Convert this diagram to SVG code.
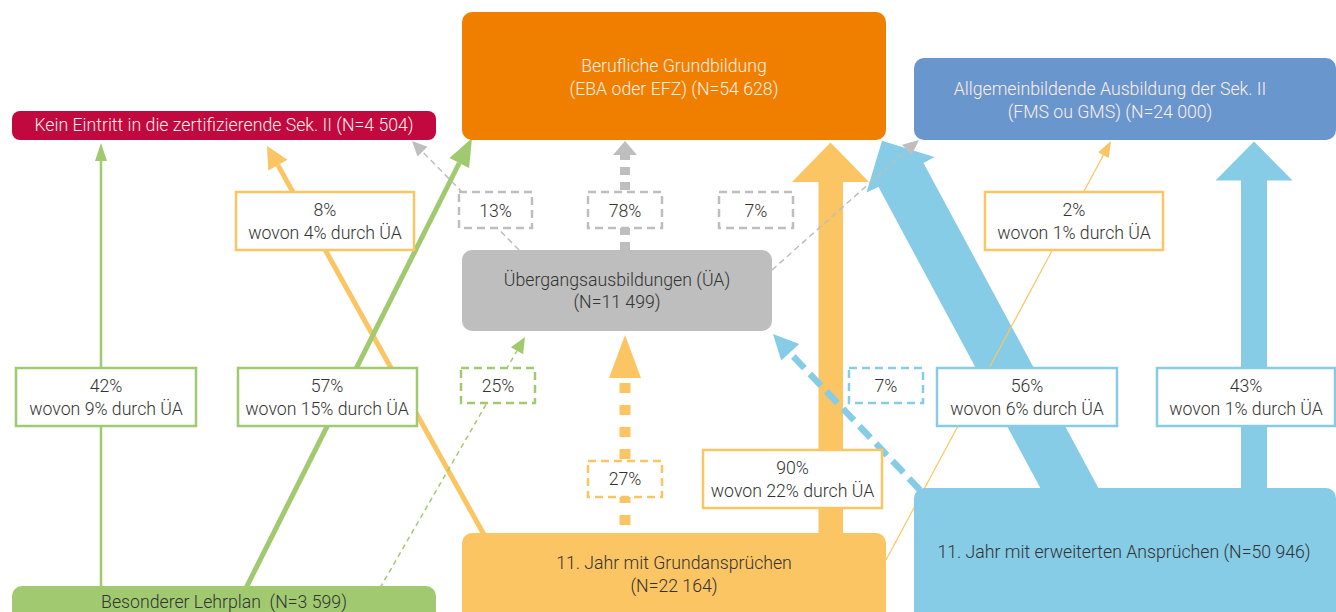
<svg xmlns="http://www.w3.org/2000/svg" width="1336" height="612" viewBox="0 0 1336 612">
<style>
text{font-family:Roboto,"Liberation Sans",sans-serif;font-weight:300;font-size:17.7px;text-anchor:middle;fill:#333}
.lt{fill:#fdeee6}
.lbl rect{fill:#fff;stroke-width:2.5}
.dl rect{fill:#fff;stroke-width:2.5;stroke-dasharray:8 5}
.g{stroke:#A1CA70}.o{stroke:#FBC563}.b{stroke:#86CCE6}.gr{stroke:#BDBEBD}
.fg{fill:#A1CA70}.fo{fill:#FBC563}.fb{fill:#86CCE6}.fgr{fill:#BDBEBD}
line{fill:none}
</style>
<rect width="1336" height="612" fill="#fff"/>
<g id="connectors">
  <polygon class="fo" points="818.5,540 843,540 843,182 869,182 830.5,142.5 792,182 818.5,182"/>
  <polygon class="fb" points="1064.1,532.1 878.5,187.1 866.5,192.5 882,140.8 934.5,157 923.5,162.9 1109.1,507.9"/>
  <polygon class="fb" points="1241,500 1267,500 1267,180.5 1292.5,180.5 1254,141.5 1215.5,180.5 1241,180.5"/>
  <line class="o" x1="487" y1="540" x2="277.9" y2="165.1" stroke-width="5"/>
  <polygon class="fo" points="267,146 268.3,170.5 287.5,159.7"/>
  <line class="g" x1="101" y1="590" x2="101" y2="158" stroke-width="2.5"/>
  <polygon class="fg" points="101,143 95,161 107,161"/>
  <line class="g" x1="245" y1="590" x2="459.3" y2="163" stroke-width="5"/>
  <polygon class="fg" points="472,138 449.5,158 469.1,168"/>
  <line class="o" x1="886" y1="560" x2="1103.4" y2="155.1" stroke-width="1.2"/>
  <polygon class="fo" points="1111,141 1098.1,152.3 1108.7,157.9"/>
  <line class="g" x1="380" y1="588" x2="517" y2="350.8" stroke-width="1.5" stroke-dasharray="5 4"/>
  <polygon class="fg" points="525,337 510.9,347.3 523.1,354.3"/>
  <line class="gr" x1="519" y1="250" x2="422.5" y2="151.7" stroke-width="1.5" stroke-dasharray="6 4"/>
  <polygon class="fgr" points="412,141 417.5,156.6 427.5,146.8"/>
  <line class="gr" x1="772" y1="270" x2="906.8" y2="150" stroke-width="1.5" stroke-dasharray="6 4"/>
  <polygon class="fgr" points="919,140 902.1,144.8 911.5,155.2"/>
  <line class="gr" x1="625" y1="250" x2="625" y2="155" stroke-width="10" stroke-dasharray="8 7"/>
  <polygon class="fgr" points="625,141 613,155 637,155"/>
  <line class="o" x1="625" y1="383" x2="625" y2="540" stroke-width="11" stroke-dasharray="10 12"/>
  <polygon class="fo" points="625,335 609,378 641,378"/>
  <line class="b" x1="920" y1="490" x2="790.8" y2="353.8" stroke-width="6.5" stroke-dasharray="16 8"/>
  <polygon class="fb" points="773,334 781.2,360.5 799.2,344.1"/>
</g>
<g id="kein">
  <rect x="12" y="111" width="424" height="29" rx="8" fill="#C1083F"/>
  <text class="lt" x="224" y="131">Kein Eintritt in die zertifizierende Sek. II (N=4 504)</text>
</g>
<g id="berufliche">
  <rect x="462" y="12" width="424" height="128" rx="10" fill="#F07F00"/>
  <text class="lt" x="674" y="71.5">Berufliche Grundbildung</text>
  <text class="lt" x="674" y="94.5">(EBA oder EFZ) (N=54 628)</text>
</g>
<g id="allgemein">
  <rect x="914" y="58" width="422" height="82" rx="10" fill="#6A96CE"/>
  <text class="lt" x="1110" y="94.5">Allgemeinbildende Ausbildung der Sek. II</text>
  <text class="lt" x="1110" y="117.5">(FMS ou GMS) (N=24 000)</text>
</g>
<g id="uebergang">
  <rect x="462" y="250" width="310" height="81" rx="10" fill="#BDBEBD"/>
  <text x="617" y="286">Übergangsausbildungen (ÜA)</text>
  <text x="617" y="308">(N=11 499)</text>
</g>
<g id="besonderer">
  <rect x="12" y="586" width="424" height="40" rx="10" fill="#A1CA70"/>
  <text x="224" y="608" style="white-space:pre">Besonderer Lehrplan  (N=3 599)</text>
</g>
<g id="grund">
  <rect x="462" y="533" width="424" height="100" rx="10" fill="#FBC563"/>
  <text x="674" y="569">11. Jahr mit Grundansprüchen</text>
  <text x="674" y="592">(N=22 164)</text>
</g>
<g id="erweitert">
  <rect x="914" y="488" width="422" height="140" rx="10" fill="#86CCE6"/>
  <text x="1124" y="558">11. Jahr mit erweiterten Ansprüchen (N=50 946)</text>
</g>
<g id="labels">
  <g class="lbl" id="l42"><rect class="g" x="16" y="368" width="180" height="58"/><text x="106" y="392">42%</text><text x="106" y="415">wovon 9% durch ÜA</text></g>
  <g class="lbl" id="l57"><rect class="g" x="238" y="368" width="179" height="58"/><text x="327" y="392">57%</text><text x="327" y="415">wovon 15% durch ÜA</text></g>
  <g class="lbl" id="l8"><rect class="o" x="236" y="192" width="178" height="58"/><text x="325" y="216">8%</text><text x="325" y="239">wovon 4% durch ÜA</text></g>
  <g class="lbl" id="l2"><rect class="o" x="985" y="192" width="178" height="58"/><text x="1074" y="216">2%</text><text x="1074" y="239">wovon 1% durch ÜA</text></g>
  <g class="lbl" id="l90"><rect class="o" x="703" y="450" width="179" height="58"/><text x="792.5" y="474">90%</text><text x="792.5" y="497">wovon 22% durch ÜA</text></g>
  <g class="lbl" id="l56"><rect class="b" x="937" y="368" width="180" height="58"/><text x="1027" y="392">56%</text><text x="1027" y="415">wovon 6% durch ÜA</text></g>
  <g class="lbl" id="l43"><rect class="b" x="1157" y="368" width="178" height="58"/><text x="1246" y="392">43%</text><text x="1246" y="415">wovon 1% durch ÜA</text></g>
  <g class="dl" id="l13"><rect class="gr" x="459" y="192" width="73" height="36"/><text x="495.5" y="216.5">13%</text></g>
  <g class="dl" id="l78"><rect class="gr" x="588" y="192" width="74" height="36"/><text x="625" y="216.5">78%</text></g>
  <g class="dl" id="l7g"><rect class="gr" x="719" y="192" width="74" height="36"/><text x="756" y="216.5">7%</text></g>
  <g class="dl" id="l25"><rect class="g" x="461" y="368" width="74" height="35"/><text x="498" y="391.5">25%</text></g>
  <g class="dl" id="l27"><rect class="o" x="588" y="461" width="74" height="36"/><text x="625" y="485">27%</text></g>
  <g class="dl" id="l7b"><rect class="b" x="849" y="368" width="74" height="35"/><text x="886" y="391.5">7%</text></g>
</g>
</svg>
